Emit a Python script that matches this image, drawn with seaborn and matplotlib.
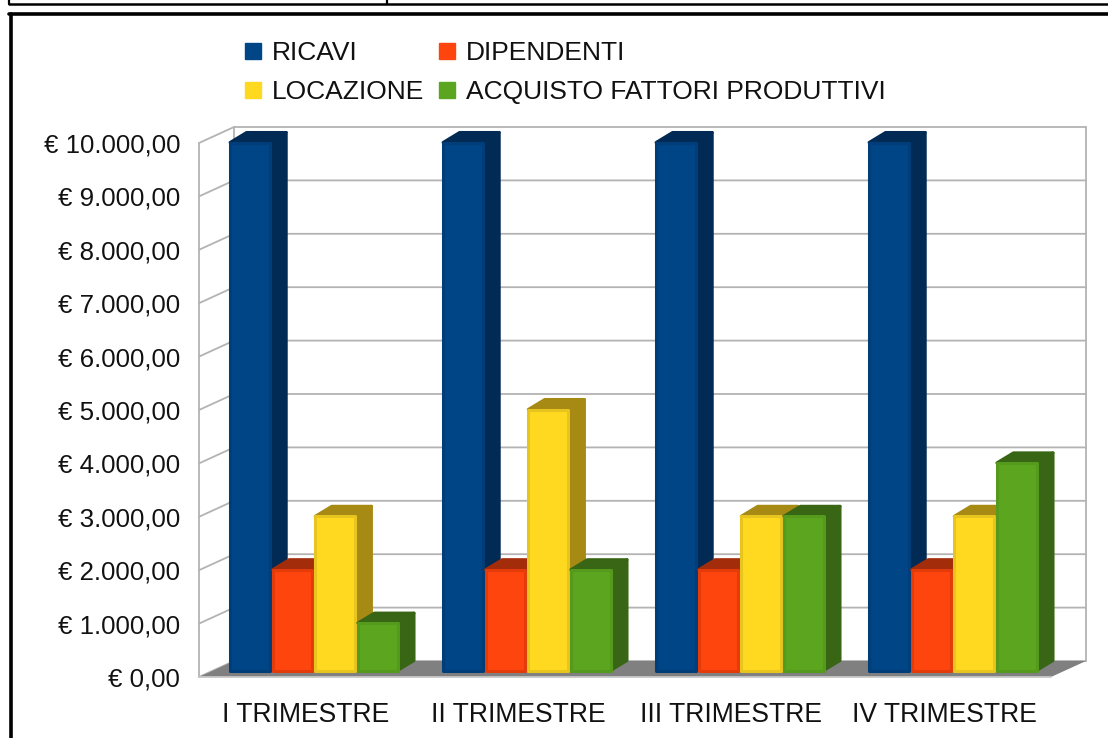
import pandas as pd
import seaborn as sns
import matplotlib.pyplot as plt
from matplotlib.lines import Line2D
from matplotlib.patches import Polygon
from matplotlib.transforms import ScaledTranslation

sns.set_style("white")
plt.rcParams['font.family'] = ['Liberation Sans', 'DejaVu Sans']

trimestri = ["I TRIMESTRE", "II TRIMESTRE", "III TRIMESTRE", "IV TRIMESTRE"]
ricavi = [10000, 10000, 10000, 10000]
dipendenti = [2000, 2000, 2000, 2000]
locazione = [3000, 5000, 3000, 3000]
acquisto = [1000, 2000, 3000, 4000]
voci = ["RICAVI", "DIPENDENTI", "LOCAZIONE", "ACQUISTO FATTORI PRODUTTIVI"]
colori = ["#004586", "#ff450e", "#ffd920", "#5ca51e"]
scuri = ["#012a54", "#a32c0a", "#a68a14", "#386614"]
bordi = ["#013d78", "#e33c0a", "#e8c41e", "#559a1c"]
tick_values = [0, 1000, 2000, 3000, 4000, 5000, 6000, 7000, 8000, 9000, 10000]
tick_labels = ["€ 0,00", "€ 1.000,00", "€ 2.000,00", "€ 3.000,00", "€ 4.000,00", "€ 5.000,00",
               "€ 6.000,00", "€ 7.000,00", "€ 8.000,00", "€ 9.000,00", "€ 10.000,00"]

W, H = 1108, 738
FS = 18.6
GRID = "#b3b3b3"

df = pd.DataFrame({"trimestre": trimestri * 4,
                   "voce": [v for v in voci for _ in trimestri],
                   "valore": ricavi + dipendenti + locazione + acquisto})

fig = plt.figure(figsize=(W / 100, H / 100), dpi=100)
# the front plane of the fake 3d box
ax = fig.add_axes([199 / W, 1 - 677 / H, 852 / W, 534 / H])

sns.barplot(data=df, x="trimestre", y="valore", hue="voce", hue_order=voci,
            palette=colori, saturation=1, gap=0, width=0.8, ax=ax, legend=False)
ax.set_xlim(-0.5, 3.5)
ax.set_ylim(0, 10000)

# pixels to data units
px_x = 4 / 852
px_y = 10000 / 534

# box walls: back wall lines and floor
back_x, back_y = 35 * px_x, 16 * px_y
x0, x1 = ax.get_xlim()
ax.add_patch(Polygon([(x0, 0), (x1, 0), (x1 + back_x, back_y), (x0 + back_x, back_y)],
                     closed=True, fc="#808080", ec="none", zorder=1, clip_on=False))
for v in tick_values:
    ax.plot([x0, x0 + back_x, x1 + back_x], [v, v + back_y, v + back_y],
            color=GRID, lw=1.3, zorder=0.5, clip_on=False)
ax.plot([x0, x0], [0, 10000], color=GRID, lw=1.3, zorder=0.5, clip_on=False)
ax.plot([x0 + back_x, x0 + back_x], [back_y, 10000 + back_y], color=GRID, lw=1.3, zorder=0.5, clip_on=False)
ax.plot([x1 + back_x, x1 + back_x], [back_y, 10000 + back_y], color=GRID, lw=1.3, zorder=0.5, clip_on=False)
ax.plot([x0, x1], [0, 0], color="#c8c8c8", lw=1.3, zorder=1.1, clip_on=False)

# bars sit a bit inside the box, each one gets a top and a side face
bar_tr = ax.transData + ScaledTranslation(8.3 / 100, 2 / 100, fig.dpi_scale_trans)
depth_x, depth_y = 16.5 * px_x, 10 * px_y
edge = 1.5
for idx, container in enumerate(ax.containers):
    for p in container:
        x = p.get_x() + edge * px_x
        w = p.get_width() - 2 * edge * px_x
        h = p.get_height() - edge * px_y
        y = 4.5 * px_y
        # later bars have to cover the side face of the ones on their left
        z = 3 + x * 0.1
        top = [(x, h), (x + depth_x, h + depth_y), (x + w + depth_x, h + depth_y), (x + w, h)]
        side = [(x + w, y), (x + w + depth_x, y + depth_y), (x + w + depth_x, h + depth_y), (x + w, h)]
        for pts in (top, side):
            ax.add_patch(Polygon(pts, closed=True, fc=scuri[idx], ec=scuri[idx], lw=2.2, joinstyle="round",
                                 transform=bar_tr, zorder=z, clip_on=False))
        p.set_x(x)
        p.set_width(w)
        p.set_y(y)
        p.set_height(h - y)
        p.set_transform(bar_tr)
        p.set_edgecolor(bordi[idx])
        p.set_linewidth(2.2)
        p.set_joinstyle("round")
        p.set_zorder(z + 0.001)
        p.set_clip_on(False)

ax.set_yticks(tick_values, tick_labels, fontsize=FS, color="#111111")
ax.set_xticks(range(4), trimestri, fontsize=19.1, color="#111111")
ax.tick_params(axis="y", length=0, pad=13.5)
ax.tick_params(axis="x", length=0, pad=18)
ax.set_xlabel("")
ax.set_ylabel("")
for s in ax.spines.values():
    s.set_visible(False)
ax.patch.set_visible(False)

# legend, order fills columns so the rows read as in the chart
handles = [Line2D([], [], ls="", marker="s", ms=11.5, mfc=c, mec=c) for c in colori]
order = [0, 2, 1, 3]
fig.legend([handles[i] for i in order], [voci[i] for i in order], ncol=2,
           loc="upper left", bbox_to_anchor=(237.5 / W, 1 - 41 / H), frameon=False,
           fontsize=19, labelspacing=0.58, columnspacing=0.28, handletextpad=0.1,
           handlelength=1.2, borderpad=0, borderaxespad=0, labelcolor="#111111")

# frame around the chart and the strip of table above it
frame = dict(transform=fig.transFigure, color="black", clip_on=False)
def hline(x_a, x_b, y, lw):
    fig.add_artist(Line2D([x_a / W, x_b / W], [1 - y / H, 1 - y / H], lw=lw, **frame))
def vline(x, y_a, y_b, lw):
    fig.add_artist(Line2D([x / W, x / W], [1 - y_a / H, 1 - y_b / H], lw=lw, **frame))
hline(9, W, 14, 2.6)
vline(11, 14, H, 2.6)
hline(9, W, 3.5, 1.8)
vline(9, 0, 4, 1.6)
vline(387, 0, 4, 1.6)

fig.savefig("out.png", dpi=100)
